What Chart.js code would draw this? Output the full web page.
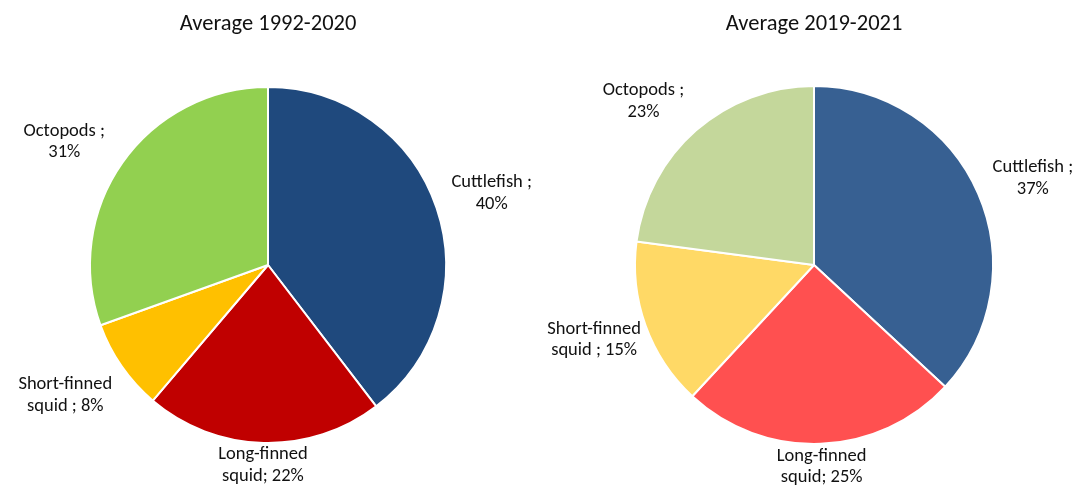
<!DOCTYPE html>
<html>
<head>
<meta charset="utf-8">
<script src="https://cdn.jsdelivr.net/npm/chart.js@4.4.1/dist/chart.umd.min.js"></script>
<style>
  html, body { margin: 0; padding: 0; background: #ffffff; overflow: hidden; }
  #wrap { position: relative; width: 1078px; height: 486px; }
  .box { position: absolute; top: 0; height: 486px; }
  #b1 { left: 0; width: 536px; }
  #b2 { left: 530px; width: 548px; }
</style>
</head>
<body>
<div id="wrap">
  <div class="box" id="b1"><canvas id="c1" width="536" height="486"></canvas></div>
  <div class="box" id="b2"><canvas id="c2" width="548" height="486"></canvas></div>
</div>
<script>
// ---- data ----
const categories = ['Cuttlefish', 'Long-finned squid', 'Short-finned squid', 'Octopods'];
const labelTemplates = ['Cuttlefish ;\n{p}', 'Long-finned\nsquid; {p}', 'Short-finned\nsquid ; {p}', 'Octopods ;\n{p}'];
const title1 = 'Average 1992-2020';
const title2 = 'Average 2019-2021';
const values1 = [39.6, 21.6, 8.3, 30.5];
const values2 = [36.9, 25.0, 15.2, 22.9];
const colors1 = ['#1F497D', '#C00000', '#FFC000', '#92D050'];
const colors2 = ['#376092', '#FF5050', '#FFD966', '#C4D79B'];

const FONT = "Carlito, Calibri, Lato, 'Liberation Sans', sans-serif";

const outsideLabels = {
  id: 'outsideLabels',
  afterDatasetsDraw(chart, args, opts) {
    const ctx = chart.ctx;
    const meta = chart.getDatasetMeta(0);
    const data = chart.data.datasets[0].data;
    const total = data.reduce((a, b) => a + b, 0);
    ctx.save();
    ctx.font = opts.fontSize + 'px ' + FONT;
    ctx.fillStyle = opts.color;
    ctx.textAlign = 'center';
    ctx.textBaseline = 'middle';
    meta.data.forEach((arc, i) => {
      const pct = Math.round(data[i] / total * 100) + '%';
      const lines = labelTemplates[i].replace('{p}', pct).split('\n');
      const lh = opts.lineHeight;
      const hw = Math.max(...lines.map(l => ctx.measureText(l).width)) / 2;
      const hh = lines.length * lh / 2;
      const mid = (arc.startAngle + arc.endAngle) / 2 + opts.turns[i] * Math.PI / 180;
      const ux = Math.cos(mid), uy = Math.sin(mid);
      const dist = arc.outerRadius + opts.gaps[i] + Math.abs(ux) * hw + Math.abs(uy) * hh;
      const cx = arc.x + ux * dist;
      const cy = arc.y + uy * dist;
      lines.forEach((l, k) => {
        ctx.fillText(l, cx, cy - hh + lh / 2 + k * lh);
      });
    });
    ctx.restore();
  }
};

function makePie(id, title, values, colors, gaps, turns, titlePadBottom, bottomPad, leftPad) {
  return new Chart(document.getElementById(id), {
    type: 'pie',
    data: {
      labels: categories,
      datasets: [{
        data: values,
        backgroundColor: colors,
        borderColor: '#ffffff',
        borderWidth: 2
      }]
    },
    options: {
      responsive: false,
      devicePixelRatio: 1,
      animation: false,
      layout: { padding: { top: 0, bottom: bottomPad, left: leftPad, right: 0 } },
      plugins: {
        legend: { display: false },
        tooltip: { enabled: false },
        title: {
          display: true,
          text: title,
          color: '#111111',
          font: { family: FONT, size: 22.5, weight: 'normal', lineHeight: 1.2 },
          padding: { top: 11, bottom: titlePadBottom }
        },
        outsideLabels: { fontSize: 18.5, lineHeight: 21.5, color: '#111111', gaps: gaps, turns: turns }
      }
    },
    plugins: [outsideLabels]
  });
}

makePie('c1', title1, values1, colors1, [12, 0, 12, 14], [1, 0, 2, -4], 48, 42, 0);
makePie('c2', title2, values2, colors2, [11, 0, 2, 13], [2, 0, 1, -5], 47, 41, 20);
</script>
</body>
</html>
